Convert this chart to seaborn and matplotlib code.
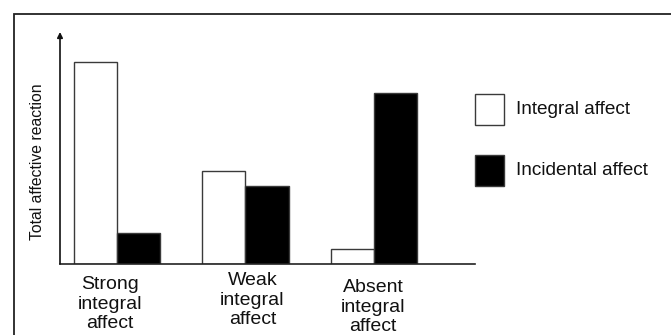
import matplotlib
matplotlib.use("Agg")
import matplotlib.pyplot as plt
import matplotlib.transforms as mtransforms
from matplotlib.patches import Rectangle
import seaborn as sns
import pandas as pd

categories = ["Strong\nintegral\naffect", "Weak\nintegral\naffect", "Absent\nintegral\naffect"]
series_names = ["Integral affect", "Incidental affect"]
integral_values = [8.7, 4.0, 0.65]
incidental_values = [1.35, 3.35, 7.35]
y_label = "Total affective reaction"

sns.set_theme(style="white")
plt.rcParams["font.family"] = ["Liberation Sans", "DejaVu Sans"]

df = pd.DataFrame({
    "category": categories * 2,
    "series": [series_names[0]] * 3 + [series_names[1]] * 3,
    "value": integral_values + incidental_values,
})

W, H = 671, 335
fig = plt.figure(figsize=(W / 100, H / 100), dpi=100)
fig.patch.set_facecolor("white")

def px_ax(l, t, r, b):
    return [l / W, 1 - b / H, (r - l) / W, (b - t) / H]

ax = fig.add_axes(px_ax(60, 32, 475, 264))
sns.barplot(data=df, x="category", y="value", hue="series",
            palette=["white", "black"], edgecolor="#3a3a3a", linewidth=1.0,
            width=0.67, saturation=1, ax=ax, legend=False)

ax.set_xlim(-0.443, 2.786)
ax.set_ylim(0, 10)
ax.set_xticks([])
ax.set_yticks([])
ax.set_xlabel("")
ax.set_ylabel("")
for s in ["top", "right", "left"]:
    ax.spines[s].set_visible(False)
ax.spines["bottom"].set_color("#222222")
ax.spines["bottom"].set_linewidth(1.2)
ax.set_facecolor("none")

# y axis arrow
ax.annotate("", xy=(0, 1.0), xytext=(0, 0), xycoords="axes fraction",
            arrowprops=dict(arrowstyle="-|>", color="#111111", lw=1.2,
                            mutation_scale=8, shrinkA=0, shrinkB=0))

# category labels below groups
offsets = [(-7, 12), (7, 8), (-1, 15)]
for i, (lab, (dx, dy)) in enumerate(zip(categories, offsets)):
    tr = ax.get_xaxis_transform() + mtransforms.ScaledTranslation(dx / 100, -dy / 100, fig.dpi_scale_trans)
    ax.text(i, 0, lab, transform=tr, ha="center", va="top", fontsize=14,
            linespacing=1.2, color="#111111")

fig.text(38 / W, 1 - 162 / H, y_label, rotation=90, ha="center", va="center",
         fontsize=11.3, color="#111111")

# legend
leg_items = [(series_names[0], "white", 94), (series_names[1], "black", 155)]
for name, col, top in leg_items:
    fig.patches.append(Rectangle((475 / W, 1 - (top + 31) / H), 29 / W, 31 / H,
                                 transform=fig.transFigure, facecolor=col,
                                 edgecolor="#3a3a3a", linewidth=1.0))
    fig.text(516 / W, 1 - (top + 15.5) / H, name, ha="left", va="center",
             fontsize=13.7, color="#111111")

# outer frame
fig.patches.append(Rectangle((14 / W, -0.1), 1.2, (1 - 14 / H) + 0.1,
                             transform=fig.transFigure, facecolor="none",
                             edgecolor="#222222", linewidth=1.3, clip_on=False))

fig.savefig("out.png", dpi=100)
